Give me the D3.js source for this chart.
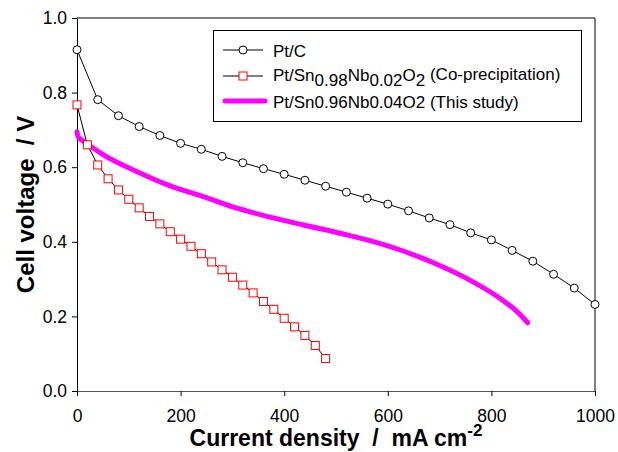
<!DOCTYPE html>
<html>
<head>
<meta charset="utf-8">
<script src="https://cdn.jsdelivr.net/npm/d3@7"></script>
<style>
  body { margin: 0; background: #fff; }
  svg { display: block; font-family: "Liberation Sans", Arial, sans-serif; }
  text { white-space: pre; }
</style>
</head>
<body>
<script>
// chart data

// Pt/C: current density every 40 mA/cm2
let ptcX = [0, 40, 80, 120, 160, 200, 240, 280, 320, 360, 400, 440, 480, 520,
            560, 600, 640, 680, 720, 760, 800, 840, 880, 920, 960, 1000]
let ptcY = [0.915, 0.781, 0.738, 0.709, 0.685, 0.664, 0.648, 0.629, 0.612, 0.596,
            0.581, 0.565, 0.549, 0.533, 0.517, 0.501, 0.483, 0.464, 0.446, 0.424,
            0.405, 0.377, 0.348, 0.313, 0.276, 0.232]

// Pt/Sn0.98Nb0.02O2 (co-precipitation): every 20 mA/cm2
let copX = [0, 20, 40, 60, 80, 100, 120, 140, 160, 180, 200, 220, 240, 260,
            280, 300, 320, 340, 360, 380, 400, 420, 440, 460, 480]
let copY = [0.767, 0.660, 0.606, 0.569, 0.539, 0.514, 0.491, 0.468, 0.448, 0.427,
            0.407, 0.388, 0.368, 0.346, 0.325, 0.305, 0.284, 0.263, 0.240, 0.219,
            0.195, 0.172, 0.149, 0.122, 0.087]

// Pt/Sn0.96Nb0.04O2 (this study): continuous curve
let studyX = [0, 2, 10, 22, 51, 116, 180, 244, 309, 373, 437, 514, 560, 624,
              688, 752, 817, 850, 870]
let studyY = [0.695, 0.682, 0.672, 0.660, 0.633, 0.588, 0.550, 0.521, 0.490, 0.466,
              0.445, 0.421, 0.405, 0.378, 0.344, 0.302, 0.248, 0.212, 0.183]

let xTicks = [0, 200, 400, 600, 800, 1000]
let yTicks = [0.0, 0.2, 0.4, 0.6, 0.8, 1.0]

let width = 618
let height = 452
let margin = {top: 18, right: 23, bottom: 61, left: 77}

let svg = d3.select('body').append('svg')
    .attr('width', width)
    .attr('height', height)

let x = d3.scaleLinear().domain([0, 1000]).range([margin.left, width - margin.right])
let y = d3.scaleLinear().domain([0, 1]).range([height - margin.bottom, margin.top])

// frame (top and right sides)
svg.append('path')
    .attr('d', 'M' + x(0) + ',' + y(1) + 'H' + x(1000) + 'V' + y(0))
    .attr('fill', 'none')
    .attr('stroke', '#000')
    .attr('stroke-width', 1)

// axes
let xAxis = svg.append('g')
    .attr('transform', 'translate(0,' + y(0) + ')')
    .call(d3.axisBottom(x).tickValues(xTicks).tickFormat(d3.format('d')).tickSize(5).tickSizeOuter(0))
let yAxis = svg.append('g')
    .attr('transform', 'translate(' + x(0) + ',0)')
    .call(d3.axisLeft(y).tickValues(yTicks).tickFormat(d3.format('.1f')).tickSize(5).tickPadding(5).tickSizeOuter(0))

svg.selectAll('.tick text')
    .attr('font-size', 17.5)
    .attr('font-family', '"Liberation Sans", Arial, sans-serif')
    .attr('fill', '#000')
xAxis.selectAll('.tick text').attr('y', 31).attr('dy', 0)
xAxis.select('.domain').attr('stroke', '#555')
yAxis.select('.domain').attr('stroke', '#000')

// axis titles
svg.append('text')
    .attr('x', (x(0) + x(1000)) / 2)
    .attr('y', 446)
    .attr('text-anchor', 'middle')
    .attr('font-size', 23)
    .attr('font-weight', 'bold')
    .text('Current density  /  mA cm')
    .append('tspan')
    .attr('dy', -10)
    .attr('font-size', 17)
    .text('-2')

svg.append('text')
    .attr('transform', 'translate(34,' + (y(0) + y(1)) / 2 + ') rotate(-90)')
    .attr('text-anchor', 'middle')
    .attr('font-size', 24)
    .attr('font-weight', 'bold')
    .text('Cell voltage  / V')

// series
let ptc = ptcX.map((d, i) => [d, ptcY[i]])
let cop = copX.map((d, i) => [d, copY[i]])
let study = studyX.map((d, i) => [d, studyY[i]])

let line = d3.line().x(d => x(d[0])).y(d => y(d[1]))
let smooth = d3.line().x(d => x(d[0])).y(d => y(d[1])).curve(d3.curveMonotoneX)

svg.append('path')
    .attr('d', smooth(study))
    .attr('fill', 'none')
    .attr('stroke', '#ff00ff')
    .attr('stroke-width', 5)
    .attr('stroke-linecap', 'round')

svg.append('path')
    .attr('d', line(cop))
    .attr('fill', 'none')
    .attr('stroke', '#000')
    .attr('stroke-width', 1)

svg.selectAll('.sq')
    .data(cop)
    .enter().append('rect')
    .attr('class', 'sq')
    .attr('x', d => x(d[0]) - 4)
    .attr('y', d => y(d[1]) - 4)
    .attr('width', 8)
    .attr('height', 8)
    .attr('fill', '#fff')
    .attr('stroke', '#ff0000')
    .attr('stroke-width', 1)

svg.append('path')
    .attr('d', line(ptc))
    .attr('fill', 'none')
    .attr('stroke', '#000')
    .attr('stroke-width', 1)

svg.selectAll('.ci')
    .data(ptc)
    .enter().append('circle')
    .attr('class', 'ci')
    .attr('cx', d => x(d[0]))
    .attr('cy', d => y(d[1]))
    .attr('r', 4)
    .attr('fill', '#fff')
    .attr('stroke', '#000')
    .attr('stroke-width', 1)

// legend
let legend = svg.append('g')
legend.append('rect')
    .attr('x', 213.5).attr('y', 30.5)
    .attr('width', 368).attr('height', 91)
    .attr('fill', '#fff')
    .attr('stroke', '#000')

let rows = [50, 76, 101]
legend.append('line').attr('x1', 223).attr('x2', 263).attr('y1', rows[0]).attr('y2', rows[0]).attr('stroke', '#000')
legend.append('circle').attr('cx', 243).attr('cy', rows[0]).attr('r', 4).attr('fill', '#fff').attr('stroke', '#000')
legend.append('line').attr('x1', 223).attr('x2', 263).attr('y1', rows[1]).attr('y2', rows[1]).attr('stroke', '#000')
legend.append('rect').attr('x', 239).attr('y', rows[1] - 4).attr('width', 8).attr('height', 8).attr('fill', '#fff').attr('stroke', '#ff0000')
legend.append('line').attr('x1', 225).attr('x2', 265).attr('y1', rows[2]).attr('y2', rows[2])
    .attr('stroke', '#ff00ff').attr('stroke-width', 5).attr('stroke-linecap', 'round')

legend.append('text').attr('x', 273).attr('y', 57).attr('font-size', 17).text('Pt/C')

let t2 = legend.append('text').attr('x', 273).attr('y', 81).attr('font-size', 17)
t2.append('tspan').text('Pt/Sn')
t2.append('tspan').attr('dy', 5).text('0.98')
t2.append('tspan').attr('dy', -5).text('Nb')
t2.append('tspan').attr('dy', 5).text('0.02')
t2.append('tspan').attr('dy', -5).text('O')
t2.append('tspan').attr('dy', 5).text('2')
t2.append('tspan').attr('dy', -6).text(' (Co-precipitation)')

legend.append('text').attr('x', 273).attr('y', 108).attr('font-size', 17).text('Pt/Sn0.96Nb0.04O2 (This study)')
</script>
</body>
</html>
